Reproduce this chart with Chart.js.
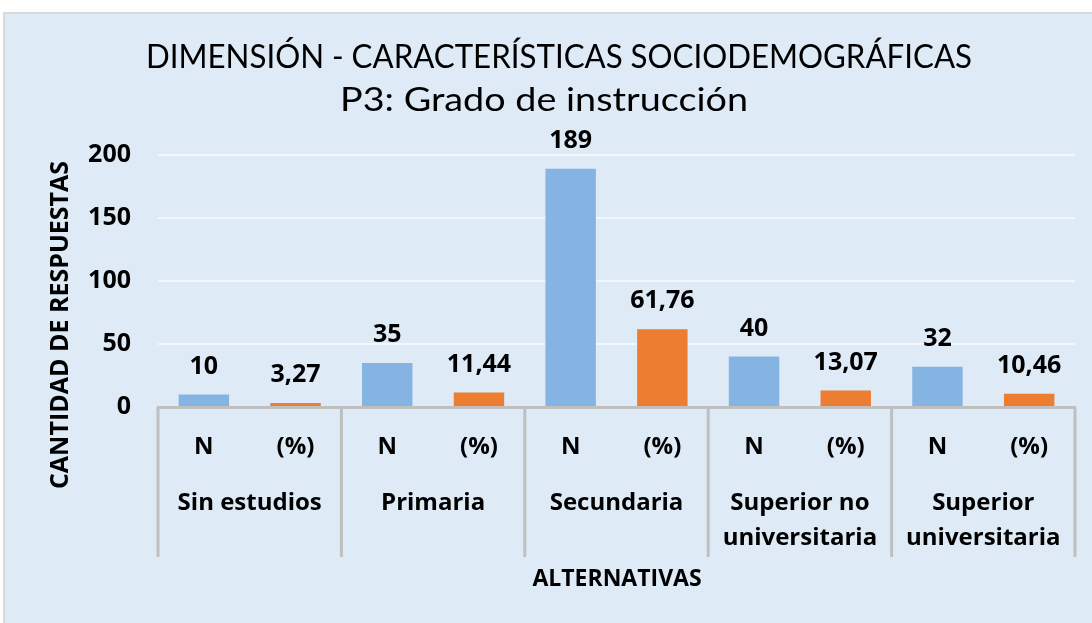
<!DOCTYPE html>
<html>
<head>
<meta charset="utf-8">
<script src="https://cdn.jsdelivr.net/npm/chart.js@4"></script>
<style>
  body { margin: 0; background: #fff; width: 1092px; height: 623px; overflow: hidden; position: relative; }
  #fond { position: absolute; left: 3px; top: 12px; width: 1100px; height: 620px; background: #deeaf6;
          border-top: 2px solid #d9d9d9; border-left: 2px solid #d9d9d9; }
  #zone { position: absolute; left: 0; top: 0; width: 1092px; height: 623px; }
</style>
</head>
<body>
<div id="fond"></div>
<div id="zone"><canvas id="graphique" width="1092" height="623"></canvas></div>
<script>
// Données
const sousCategories = ['N', '(%)', 'N', '(%)', 'N', '(%)', 'N', '(%)', 'N', '(%)'];
const groupes = [['Sin estudios'], ['Primaria'], ['Secundaria'], ['Superior no', 'universitaria'], ['Superior', 'universitaria']];
const valeurs = [10, 3.27, 35, 11.44, 189, 61.76, 40, 13.07, 32, 10.46];
const graduations = [0, 50, 100, 150, 200];

const titre = 'DIMENSIÓN - CARACTERÍSTICAS SOCIODEMOGRÁFICAS';
const sousTitre = 'P3: Grado de instrucción';
const titreAxeY = 'CANTIDAD DE RESPUESTAS';
const titreAxeX = 'ALTERNATIVAS';

const BLEU = '#85b4e3';
const ORANGE = '#ed7d31';
const GRIS = '#bfbfbf';
const POLICE = '"Open Sans", sans-serif';

// Affiche 61.76 -> "61,76" comme dans l'original
function formater(v) {
  return Number.isInteger(v) ? String(v) : v.toFixed(2).replace('.', ',');
}

// Écrit un texte centré, étiré ou resserré horizontalement pour occuper la largeur voulue
function texteAjuste(ctx, texte, cx, cy, largeur) {
  const w = ctx.measureText(texte).width;
  ctx.save();
  ctx.translate(cx, cy);
  ctx.scale(largeur / w, 1);
  ctx.fillText(texte, 0, 0);
  ctx.restore();
}

// Textes, séparateurs et étiquettes de valeurs dessinés par-dessus le graphique
const decor = {
  id: 'decor',
  afterDraw(chart) {
    const ctx = chart.ctx;
    const x = chart.scales.x;
    const zone = chart.chartArea;
    ctx.save();
    ctx.fillStyle = '#000';
    ctx.textAlign = 'center';
    ctx.textBaseline = 'middle';

    // titres (police étroite dans l'original)
    ctx.font = '33px Lato, sans-serif';
    texteAjuste(ctx, titre, 559, 57, 826);
    texteAjuste(ctx, sousTitre, 544, 100, 408);

    // valeurs au-dessus des barres
    ctx.font = 'bold 25px ' + POLICE;
    chart.getDatasetMeta(0).data.forEach((barre, i) => {
      ctx.fillText(formater(valeurs[i]), barre.x, barre.y - 28);
    });

    // séparateurs entre groupes
    const largeurGroupe = (x.right - x.left) / groupes.length;
    ctx.strokeStyle = GRIS;
    ctx.lineWidth = 3;
    for (let g = 0; g <= groupes.length; g++) {
      const gx = x.left + g * largeurGroupe;
      ctx.beginPath();
      ctx.moveTo(gx, zone.bottom);
      ctx.lineTo(gx, 557);
      ctx.stroke();
    }

    // noms des groupes
    ctx.font = 'bold 24px ' + POLICE;
    groupes.forEach((lignes, g) => {
      const cx = x.left + (g + 0.5) * largeurGroupe;
      lignes.forEach((ligne, k) => ctx.fillText(ligne, cx, 503 + k * 35));
    });

    // titres des axes
    ctx.font = 'bold 23px ' + POLICE;
    ctx.fillText(titreAxeX, 617, 579);
    ctx.font = 'bold 25px ' + POLICE;
    ctx.translate(61, 325);
    ctx.rotate(-Math.PI / 2);
    ctx.fillText(titreAxeY, 0, 0);
    ctx.restore();
  }
};

new Chart(document.getElementById('graphique'), {
  type: 'bar',
  data: {
    labels: sousCategories,
    datasets: [{
      data: valeurs,
      backgroundColor: valeurs.map((v, i) => i % 2 === 0 ? BLEU : ORANGE),
      categoryPercentage: 1,
      barPercentage: 0.55
    }]
  },
  options: {
    responsive: false,
    animation: false,
    devicePixelRatio: 1,
    layout: { padding: { top: 155, right: 17, left: 0, bottom: 0 } },
    plugins: { legend: { display: false }, title: { display: false }, tooltip: { enabled: false } },
    scales: {
      y: {
        min: 0,
        max: 200,
        afterBuildTicks: s => { s.ticks = graduations.map(v => ({ value: v })); },
        afterFit: s => { s.width = 158; },
        ticks: { color: '#000', font: { family: POLICE, size: 25, weight: 'bold' }, padding: 27 },
        grid: { color: '#f3f6fa', lineWidth: 2, drawTicks: false },
        border: { display: false }
      },
      x: {
        afterFit: s => { s.height = 216; },
        ticks: { color: '#000', font: { family: POLICE, size: 24, weight: 'bold' }, padding: 18, maxRotation: 0 },
        grid: { display: false },
        border: { color: GRIS, width: 3 }
      }
    }
  },
  plugins: [decor]
});
</script>
</body>
</html>
